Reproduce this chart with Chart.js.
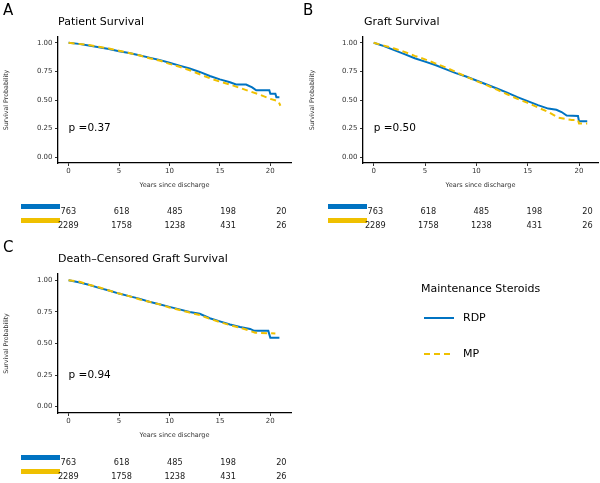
<!DOCTYPE html>
<html>
<head>
<meta charset="utf-8">
<script src="https://cdn.jsdelivr.net/npm/chart.js@4.4.1/dist/chart.umd.min.js"></script>
<style>
body{margin:0;width:600px;height:483px;overflow:hidden;background:#fff;position:relative;font-family:"DejaVu Sans",sans-serif;}
canvas{position:absolute;}
</style>
</head>
<body>
<canvas id="chartA" style="left:0;top:0" width="300" height="195"></canvas>
<canvas id="riskA" style="left:0;top:200px" width="300" height="38"></canvas>
<canvas id="chartB" style="left:300px;top:0" width="300" height="195"></canvas>
<canvas id="riskB" style="left:300px;top:200px" width="300" height="38"></canvas>
<canvas id="chartC" style="left:0;top:240px" width="600" height="205"></canvas>
<canvas id="riskC" style="left:0;top:451px" width="300" height="34"></canvas>
<script>
// survival curves (years, probability)
var patientRdpT = [0,1,2,3,4,5,6,7,8,9,10,11,12,13,14,15,16,16.6,17.6,18.2,18.6,19.9,20.0,20.5,20.6,20.9];
var patientRdpS = [1.00,0.99,0.975,0.96,0.945,0.925,0.91,0.89,0.87,0.85,0.825,0.80,0.775,0.745,0.71,0.68,0.655,0.635,0.635,0.61,0.585,0.585,0.555,0.555,0.525,0.525];
var patientMpT = [0,1,2,3,4,5,6,7,8,9,10,11,12,13,14,15,16,17,18,19,20,20.8,21];
var patientMpS = [1.00,0.99,0.98,0.965,0.95,0.93,0.91,0.89,0.865,0.845,0.815,0.79,0.76,0.725,0.69,0.66,0.635,0.605,0.575,0.545,0.51,0.49,0.45];

var graftRdpT = [0,1,2,3,4,5,6,7,8,9,10,11,12,13,14,15,16,17,17.8,18.3,18.8,19.9,20.0,20.8];
var graftRdpS = [1.00,0.97,0.935,0.90,0.865,0.835,0.805,0.77,0.735,0.705,0.67,0.635,0.60,0.565,0.525,0.49,0.455,0.425,0.415,0.395,0.365,0.36,0.315,0.315];
var graftMpT = [0,1,2,3,4,5,6,7,8,9,10,11,12,13,14,15,16,17,18,19.3,19.9,20.0,20.8];
var graftMpS = [1.00,0.975,0.95,0.92,0.885,0.855,0.82,0.785,0.745,0.705,0.665,0.63,0.59,0.55,0.51,0.475,0.435,0.395,0.345,0.325,0.325,0.295,0.295];

var dcRdpT = [0,1,2,3,4,5,6,7,8,9,10,11,12,13,14,15,16,17,18,18.4,19.8,20.0,20.9];
var dcRdpS = [1.00,0.985,0.965,0.94,0.92,0.895,0.875,0.855,0.83,0.81,0.79,0.77,0.75,0.735,0.70,0.675,0.65,0.63,0.615,0.60,0.60,0.545,0.545];
var dcMpT = [0,1,2,3,4,5,6,7,8,9,10,11,12,13,14,15,16,17,18,18.5,20.5];
var dcMpS = [1.00,0.99,0.965,0.945,0.92,0.895,0.875,0.85,0.83,0.81,0.785,0.765,0.745,0.725,0.695,0.67,0.645,0.625,0.60,0.585,0.58];

// numbers at risk
var riskTimes = [0,5,10,15,20];
var riskGroups = ['RDP','MP'];
var riskRdp = [763,618,485,198,20];
var riskMp = [2289,1758,1238,431,26];

var xTicks = [0,5,10,15,20];
var yTicks = [0,0.25,0.5,0.75,1];

var blue = '#0073C2', gold = '#EFC000';
var font = '"DejaVu Sans", sans-serif';

function pts(t, s){
    return t.map(function(v, i){ return {x: v, y: s[i]}; });
}

var panelText = {
    id: 'panelText',
    afterDraw: function(chart, args, o){
        var ctx = chart.ctx;
        ctx.save();
        ctx.fillStyle = '#000';
        ctx.textBaseline = 'middle';
        ctx.textAlign = 'left';
        ctx.font = '15px ' + font;
        ctx.fillText(o.letter, 3, o.letterY);
        ctx.font = '11px ' + font;
        ctx.fillText(o.title, o.titleX, o.titleY);
        ctx.font = '10.5px ' + font;
        ctx.fillText(o.pval, chart.scales.x.getPixelForValue(0), chart.scales.y.getPixelForValue(0.25));
        ctx.restore();
    }
};

var legendBox = {
    id: 'legendBox',
    afterDraw: function(chart, args, o){
        if (!o.show) return;
        var ctx = chart.ctx;
        ctx.save();
        ctx.fillStyle = '#000';
        ctx.textBaseline = 'middle';
        ctx.font = '11px ' + font;
        ctx.fillText('Maintenance Steroids', 421, 49);
        var rows = [78, 114];
        chart.data.datasets.forEach(function(ds, i){
            ctx.strokeStyle = ds.borderColor;
            ctx.lineWidth = ds.borderWidth;
            ctx.setLineDash(ds.borderDash || []);
            ctx.beginPath();
            ctx.moveTo(424, rows[i]);
            ctx.lineTo(454, rows[i]);
            ctx.stroke();
            ctx.fillText(ds.label, 463, rows[i]);
        });
        ctx.restore();
    }
};

function makePanel(id, rdp, mp, cfg){
    return new Chart(document.getElementById(id), {
        type: 'line',
        data: {
            datasets: [{
                label: 'RDP',
                data: rdp,
                borderColor: blue,
                borderWidth: 2,
                pointRadius: 0,
                order: 2
            }, {
                label: 'MP',
                data: mp,
                borderColor: gold,
                borderWidth: 2,
                borderDash: [6, 4],
                pointRadius: 0,
                order: 1
            }]
        },
        options: {
            responsive: false,
            animation: false,
            layout: {padding: cfg.padding},
            scales: {
                x: {
                    type: 'linear',
                    min: cfg.xmin, max: cfg.xmax,
                    afterFit: function(s){ s.height = 32; },
                    afterBuildTicks: function(s){ s.ticks = xTicks.map(function(v){ return {value: v}; }); },
                    ticks: {font: {size: 7, family: font}, color: '#333', padding: 1},
                    grid: {drawOnChartArea: false, tickLength: 3, color: '#333'},
                    border: {color: '#000', width: 1.3},
                    title: {display: true, text: 'Years since discharge', font: {size: 6.5, family: font}, color: '#333', padding: {top: 2, bottom: 6}}
                },
                y: {
                    min: -0.05, max: 1.05,
                    afterFit: function(s){ s.width = cfg.yWidth; },
                    afterBuildTicks: function(s){ s.ticks = yTicks.map(function(v){ return {value: v}; }); },
                    ticks: {font: {size: 7, family: font}, color: '#333', padding: 2.5,
                        callback: function(v){ return v.toFixed(2); }},
                    grid: {drawOnChartArea: false, tickLength: 3, color: '#333'},
                    border: {color: '#000', width: 1.3},
                    title: {display: true, text: 'Survival Probability', font: {size: 6.3, family: font}, color: '#333', padding: {top: cfg.yTitlePad, bottom: 0}}
                }
            },
            plugins: {
                legend: {display: false},
                tooltip: {enabled: false},
                panelText: cfg.text,
                legendBox: {show: !!cfg.legend}
            }
        },
        plugins: [panelText, legendBox]
    });
}

var riskTable = {
    id: 'riskTable',
    afterDraw: function(chart, args, o){
        var ctx = chart.ctx, x = chart.scales.x, y = chart.scales.y;
        ctx.save();
        ctx.font = '8.2px ' + font;
        ctx.textAlign = 'center';
        ctx.textBaseline = 'middle';
        [riskRdp, riskMp].forEach(function(row, r){
            var py = y.getPixelForValue(r);
            ctx.fillStyle = [blue, gold][r];
            ctx.fillRect(o.barX0, py - 8, o.barX1 - o.barX0, 5);
            ctx.fillStyle = '#1a1a1a';
            row.forEach(function(n, i){
                ctx.fillText(String(n), x.getPixelForValue(riskTimes[i]), py);
            });
        });
        ctx.restore();
    }
};

function makeRisk(id, padding, bar){
    return new Chart(document.getElementById(id), {
        type: 'line',
        data: {datasets: []},
        options: {
            responsive: false,
            animation: false,
            layout: {padding: padding},
            scales: {
                x: {type: 'linear', min: -0.5, max: 21, display: false},
                y: {type: 'category', labels: riskGroups, offset: true, display: false}
            },
            plugins: {
                legend: {display: false},
                tooltip: {enabled: false},
                riskTable: bar
            }
        },
        plugins: [riskTable]
    });
}

makePanel('chartA', pts(patientRdpT, patientRdpS), pts(patientMpT, patientMpS), {
    padding: {top: 37, right: 9, left: 0, bottom: 0},
    xmin: -1.05, xmax: 22.05, yWidth: 58, yTitlePad: 3,
    text: {letter: 'A', letterY: 11, title: 'Patient Survival', titleX: 58, titleY: 22, pval: 'p =0.37'}
});
makePanel('chartB', pts(graftRdpT, graftRdpS), pts(graftMpT, graftMpS), {
    padding: {top: 37, right: 2, left: 0, bottom: 0},
    xmin: -1.04, xmax: 21.85, yWidth: 63, yTitlePad: 9,
    text: {letter: 'B', letterY: 11, title: 'Graft Survival', titleX: 64, titleY: 22, pval: 'p =0.50'}
});
makePanel('chartC', pts(dcRdpT, dcRdpS), pts(dcMpT, dcMpS), {
    padding: {top: 34, right: 309, left: 0, bottom: 0},
    xmin: -1.05, xmax: 22.05, yWidth: 58, yTitlePad: 3,
    text: {letter: 'C', letterY: 8, title: 'Death\u2013Censored Graft Survival', titleX: 58, titleY: 19, pval: 'p =0.94'},
    legend: true
});

makeRisk('riskA', {left: 63, right: 8, top: 5, bottom: 5}, {barX0: 21, barX1: 60});
makeRisk('riskB', {left: 70, right: 2, top: 5, bottom: 5}, {barX0: 28, barX1: 67});
makeRisk('riskC', {left: 63, right: 8, top: 5, bottom: 1}, {barX0: 21, barX1: 60});
</script>
</body>
</html>
